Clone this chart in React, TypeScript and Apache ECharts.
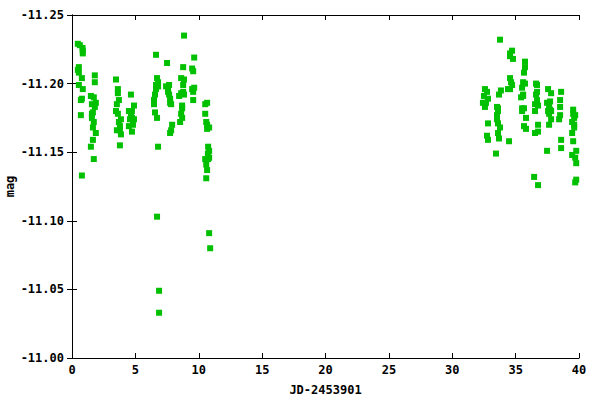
import React, { useEffect, useRef } from "react";
import * as echarts from "echarts";

const xTitle = "JD-2453901";
const yTitle = "mag";

const jd: number[] = [
  0.46, 0.62, 0.83, 0.85, 0.85, 0.54, 0.46, 0.54, 0.78, 0.54, 0.85, 0.78, 0.70, 0.70, 0.78,
  1.80, 1.80, 1.49, 1.72, 1.88, 1.57, 1.80, 1.65, 1.57, 1.57, 1.72, 1.65, 1.88, 1.65, 1.49, 1.72,
  3.47, 3.62, 3.62, 3.70, 3.54, 3.47, 3.62, 3.86, 3.70, 3.78, 3.54, 3.78, 3.86, 3.78,
  4.65, 4.89, 4.49, 4.73, 4.65, 4.73, 4.89, 4.57, 4.81, 4.49, 4.73,
  6.63, 6.71, 6.79, 6.63, 6.79, 6.63, 6.55, 6.47, 6.47, 6.55, 6.71, 6.79, 6.71, 6.87, 6.87,
  7.50, 7.42, 7.66, 7.58, 7.58, 7.66, 7.74, 7.74, 7.82, 7.90, 7.82, 7.74,
  8.84, 8.77, 8.61, 8.84, 8.77, 8.77, 8.61, 8.45, 8.84, 8.69, 8.69, 8.61, 8.69, 8.53,
  9.64, 9.48, 9.56, 9.48, 9.64, 9.56, 9.56,
  10.66, 10.51, 10.51, 10.59, 10.66, 10.82, 10.66, 10.74, 10.82, 10.72, 10.51, 10.74, 10.82, 10.59, 10.66, 10.59, 10.82, 10.90,
  32.58, 32.74, 32.50, 32.82, 32.66, 32.42, 32.58, 32.82, 32.74, 32.82,
  33.77, 33.84, 33.69, 33.53, 33.61, 33.61, 33.53, 33.53, 33.61, 33.77, 33.61, 33.69, 33.45,
  34.72, 34.56, 34.56, 34.79, 34.56, 34.64, 34.72, 34.56, 34.40, 34.48,
  35.74, 35.74, 35.66, 35.59, 35.74, 35.51, 35.59, 35.43, 35.59, 35.51, 35.66, 35.51, 35.82, 35.66, 35.82,
  36.61, 36.69, 36.69, 36.61, 36.69, 36.53, 36.77, 36.53, 36.77, 36.77, 36.53, 36.46, 36.77,
  37.56, 37.80, 37.72, 37.48, 37.64, 37.72, 37.56, 37.80, 37.64, 37.80, 37.64, 37.48,
  38.59, 38.51, 38.51, 38.51, 38.43, 38.59, 38.59,
  39.54, 39.54, 39.70, 39.62, 39.46, 39.62, 39.62, 39.46, 39.54, 39.78, 39.46, 39.70, 39.78, 39.78, 39.70,
];

const mag: number[] = [
  -11.229, -11.228, -11.226, -11.224, -11.222, -11.212, -11.210, -11.208, -11.204, -11.199, -11.196, -11.189, -11.188, -11.177, -11.133,
  -11.206, -11.201, -11.191, -11.190, -11.186, -11.185, -11.183, -11.179, -11.178, -11.175, -11.172, -11.168, -11.164, -11.159, -11.154, -11.145,
  -11.203, -11.196, -11.193, -11.188, -11.185, -11.180, -11.178, -11.174, -11.172, -11.169, -11.166, -11.166, -11.163, -11.155,
  -11.192, -11.184, -11.180, -11.180, -11.178, -11.175, -11.174, -11.174, -11.170, -11.169, -11.165,
  -11.221, -11.204, -11.201, -11.199, -11.198, -11.196, -11.192, -11.188, -11.185, -11.179, -11.175, -11.154, -11.103, -11.049, -11.033,
  -11.215, -11.198, -11.199, -11.196, -11.194, -11.192, -11.189, -11.186, -11.185, -11.170, -11.166, -11.164,
  -11.235, -11.212, -11.204, -11.203, -11.199, -11.194, -11.193, -11.191, -11.192, -11.184, -11.182, -11.178, -11.175, -11.172,
  -11.219, -11.211, -11.209, -11.196, -11.197, -11.194, -11.188,
  -11.186, -11.185, -11.178, -11.172, -11.170, -11.168, -11.167, -11.154, -11.151, -11.149, -11.145, -11.145, -11.146, -11.141, -11.137, -11.131, -11.091, -11.080,
  -11.196, -11.194, -11.191, -11.189, -11.186, -11.186, -11.183, -11.171, -11.162, -11.159,
  -11.232, -11.195, -11.192, -11.183, -11.182, -11.180, -11.177, -11.174, -11.171, -11.168, -11.164, -11.160, -11.149,
  -11.224, -11.222, -11.220, -11.218, -11.204, -11.201, -11.199, -11.196, -11.196, -11.158,
  -11.216, -11.212, -11.208, -11.201, -11.200, -11.197, -11.192, -11.190, -11.191, -11.182, -11.182, -11.180, -11.175, -11.169, -11.167,
  -11.200, -11.199, -11.194, -11.192, -11.188, -11.185, -11.184, -11.180, -11.170, -11.165, -11.164, -11.132, -11.126,
  -11.196, -11.193, -11.187, -11.186, -11.183, -11.181, -11.180, -11.180, -11.178, -11.174, -11.170, -11.151,
  -11.194, -11.188, -11.183, -11.177, -11.174, -11.159, -11.153,
  -11.181, -11.178, -11.177, -11.175, -11.172, -11.170, -11.168, -11.164, -11.158, -11.151, -11.148, -11.146, -11.142, -11.130, -11.128,
];

const xTicks = [0, 5, 10, 15, 20, 25, 30, 35, 40];
const yTicks = [-11.25, -11.2, -11.15, -11.1, -11.05, -11.0];

const FONT = "'DejaVu Sans Mono', monospace";

export default function App() {
  const ref = useRef<HTMLDivElement>(null);
  useEffect(() => {
    if (!ref.current) return;
    const chart = echarts.init(ref.current, null, { renderer: "svg" });
    const points = jd.map((x, i) => [x, mag[i]]);
    const tickStyle = { show: true, inside: true, length: 5, lineStyle: { color: "#000", width: 1 } };
    const lineStyle = { show: true, lineStyle: { color: "#000", width: 1 } };
    const labelStyle = { color: "#000", fontFamily: FONT, fontSize: 12, fontWeight: "bold" as const };
    chart.setOption({
      animation: false,
      backgroundColor: "#fff",
      grid: { left: 72, right: 21, top: 15, bottom: 42, containLabel: false, outerBoundsMode: "none" },
      xAxis: [
        {
          type: "value",
          position: "bottom",
          min: 0,
          max: 40,
          interval: 5,
          name: xTitle,
          nameLocation: "middle",
          nameGap: 26,
          nameMoveOverlap: false,
          nameTextStyle: { ...labelStyle },
          axisLine: lineStyle,
          axisTick: tickStyle,
          axisLabel: { ...labelStyle, margin: 6, formatter: (v: number) => (xTicks.includes(v) ? String(v) : "") },
          splitLine: { show: false },
        },
        {
          type: "value",
          position: "top",
          min: 0,
          max: 40,
          interval: 5,
          axisLine: lineStyle,
          axisTick: tickStyle,
          axisLabel: { show: false },
          splitLine: { show: false },
        },
      ],
      yAxis: [
        {
          type: "value",
          position: "left",
          inverse: true,
          min: -11.25,
          max: -11.0,
          interval: 0.05,
          name: yTitle,
          nameLocation: "middle",
          nameGap: 56,
          nameMoveOverlap: false,
          nameRotate: 90,
          nameTextStyle: { ...labelStyle },
          axisLine: lineStyle,
          axisTick: tickStyle,
          axisLabel: {
            ...labelStyle,
            margin: 8,
            formatter: (v: number) => (yTicks.some((t) => Math.abs(t - v) < 1e-6) ? v.toFixed(2) : ""),
          },
          splitLine: { show: false },
        },
        {
          type: "value",
          position: "right",
          inverse: true,
          min: -11.25,
          max: -11.0,
          interval: 0.05,
          axisLine: lineStyle,
          axisTick: tickStyle,
          axisLabel: { show: false },
          splitLine: { show: false },
        },
      ],
      series: [
        {
          type: "scatter",
          xAxisIndex: 0,
          yAxisIndex: 0,
          data: points,
          symbol: "rect",
          symbolSize: 6,
          clip: false,
          itemStyle: { color: "#00c000", opacity: 1 },
          emphasis: { disabled: true },
        },
      ],
    });
    return () => chart.dispose();
  }, []);
  return <div ref={ref} style={{ width: 600, height: 400, position: "absolute", left: 0, top: 0, background: "#fff" }} />;
}
